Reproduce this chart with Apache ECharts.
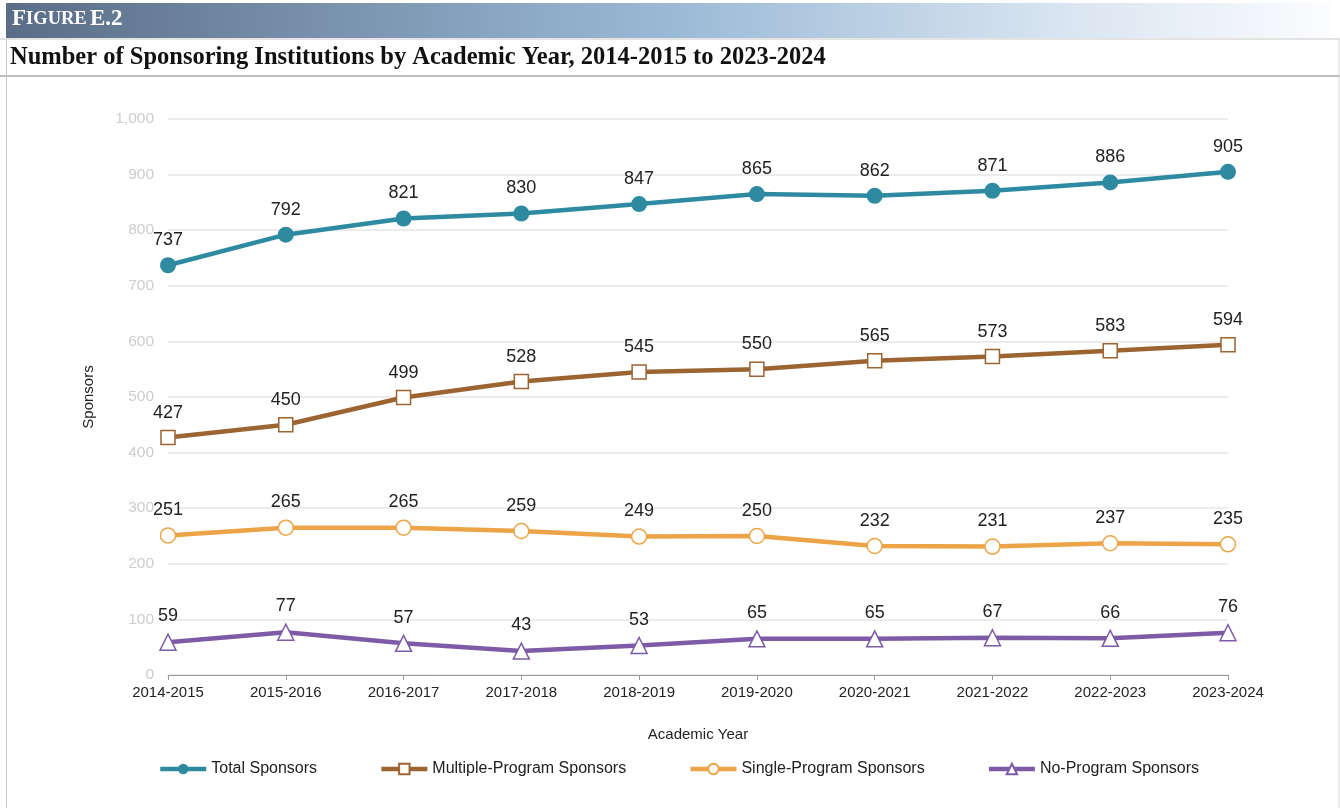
<!DOCTYPE html>
<html><head><meta charset="utf-8">
<script src="https://cdn.jsdelivr.net/npm/echarts@6/dist/echarts.min.js"></script>
<style>html,body{margin:0;padding:0;background:#fff}#c{width:1340px;height:808px}</style>
</head><body><div id="c"></div>
<script>
const categories = ['2014-2015','2015-2016','2016-2017','2017-2018','2018-2019','2019-2020','2020-2021','2021-2022','2022-2023','2023-2024'];
const totalSponsors = [737,792,821,830,847,865,862,871,886,905];
const multipleProgram = [427,450,499,528,545,550,565,573,583,594];
const singleProgram = [251,265,265,259,249,250,232,231,237,235];
const noProgram = [59,77,57,43,53,65,65,67,66,76];

const chart = echarts.init(document.getElementById('c'));
const font = 'Liberation Sans, Arial, sans-serif';
function mk(name, data, color, symbol, size, filled){
  return {
    name, type:'line', data, symbol, symbolSize:size,
    lineStyle:{color, width:4.5},
    itemStyle:{color: filled?color:'#fff', borderColor:color, borderWidth: filled?0:1.5},
    label:{show:true, position:'top', distance:8, color:'#222', fontSize:18, fontFamily:font},
    emphasis:{disabled:true}
  };
}
chart.setOption({
  animation:false,
  graphic:[
    {type:'rect', shape:{x:6,y:3,width:1324,height:35}, style:{fill:new echarts.graphic.LinearGradient(0,0,1,0,[{offset:0,color:'#5a6d86'},{offset:0.5,color:'#9ab9d6'},{offset:0.8,color:'#d9e5f1'},{offset:1,color:'#fbfcfe'}])}},
    {type:'text', left:12, top:8, style:{text:'{a|F}{b|IGURE} {a|E.2}', rich:{a:{fontFamily:'Liberation Serif, serif', fontWeight:'bold', fontSize:23, fill:'#fff'}, b:{fontFamily:'Liberation Serif, serif', fontWeight:'bold', fontSize:18.5, fill:'#fff'}}}},
    {type:'line', shape:{x1:0,y1:39,x2:1340,y2:39}, style:{stroke:'#c8c8c8', lineWidth:1}},
    {type:'line', shape:{x1:0,y1:76,x2:1340,y2:76}, style:{stroke:'#a8a8a8', lineWidth:1.5}},
    {type:'line', shape:{x1:6.5,y1:39,x2:6.5,y2:808}, style:{stroke:'#c8c8c8', lineWidth:1}},
    {type:'line', shape:{x1:1339,y1:39,x2:1339,y2:808}, style:{stroke:'#d8d8d8', lineWidth:1}},
    {type:'text', left:10, top:45, style:{text:'Number of Sponsoring Institutions by Academic Year, 2014-2015 to 2023-2024', fontFamily:'Liberation Serif, serif', fontWeight:'bold', fontSize:24.5, fill:'#111'}}
  ],
  grid:{left:168, right:112, top:119, bottom:133},
  legend:{
    bottom:26, left:153, itemGap:62, itemWidth:46, itemHeight:13,
    lineStyle:{width:4.5},
    textStyle:{fontFamily:font, fontSize:16, color:'#222'},
    data:['Total Sponsors','Multiple-Program Sponsors','Single-Program Sponsors','No-Program Sponsors']
  },
  xAxis:{
    type:'category', data:categories, boundaryGap:false,
    name:'Academic Year', nameLocation:'middle', nameGap:52,
    nameTextStyle:{fontFamily:font, fontSize:15, color:'#222'},
    axisLine:{lineStyle:{color:'#999'}},
    axisTick:{show:true, alignWithLabel:true, length:5, lineStyle:{color:'#999'}},
    axisLabel:{fontFamily:font, fontSize:15, color:'#222', margin:10}
  },
  yAxis:{
    type:'value', min:0, max:1000, interval:100,
    name:'Sponsors', nameLocation:'middle', nameGap:72, nameRotate:90,
    nameTextStyle:{fontFamily:font, fontSize:15, color:'#222'},
    axisLine:{show:false}, axisTick:{show:false},
    axisLabel:{fontFamily:font, fontSize:15.5, color:'#cdcdcd', margin:14, formatter:v=>v.toLocaleString('en-US')},
    splitLine:{lineStyle:{color:'#e6e6e6', width:1.5}}
  },
  series:[
    mk('Total Sponsors', totalSponsors, '#2e8aa0', 'circle', 16, true),
    mk('Multiple-Program Sponsors', multipleProgram, '#9c6431', 'rect', 14, false),
    mk('Single-Program Sponsors', singleProgram, '#eda448', 'circle', 15, false),
    mk('No-Program Sponsors', noProgram, '#7d5ba6', 'triangle', 16, false)
  ]
});
</script></body></html>
